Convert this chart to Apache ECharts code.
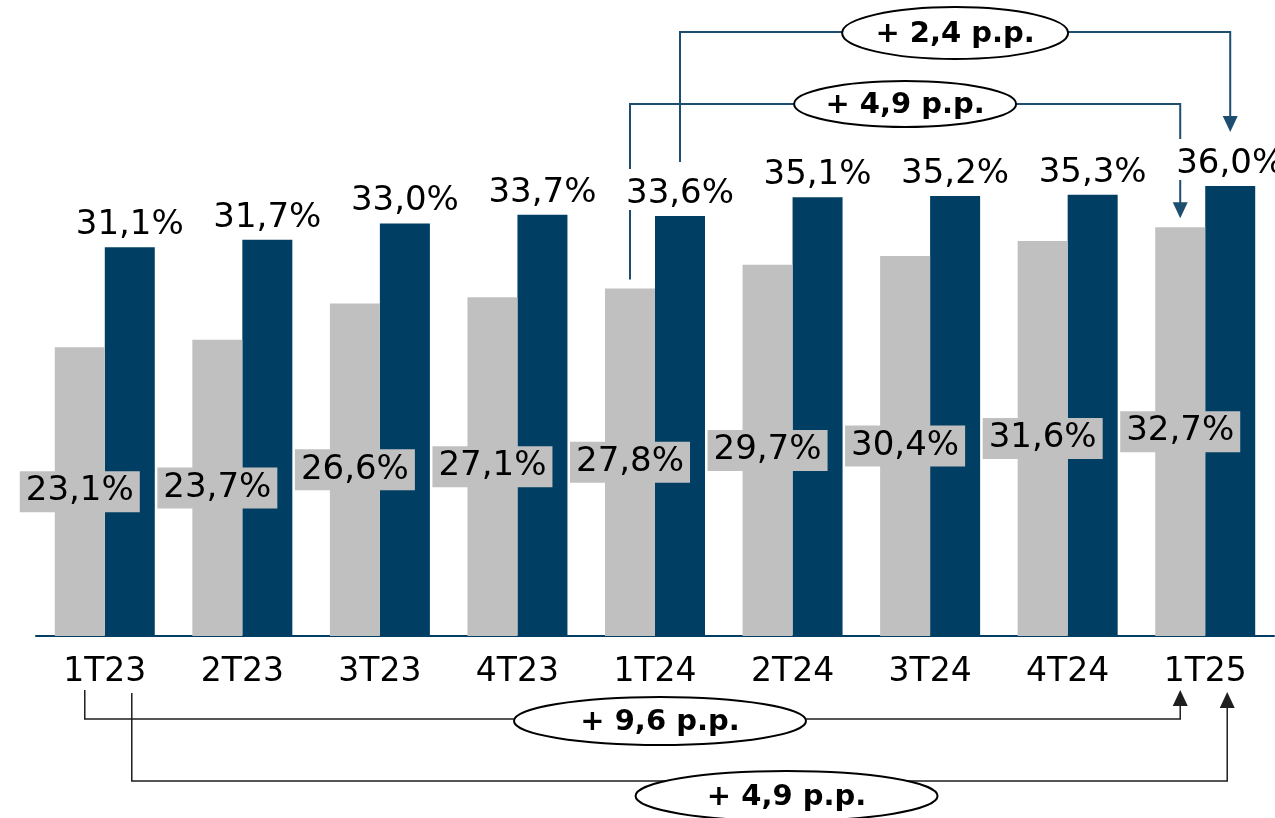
<!DOCTYPE html>
<html>
<head>
<meta charset="utf-8">
<script src="https://cdn.jsdelivr.net/npm/echarts@6/dist/echarts.min.js"></script>
<style>
html,body{margin:0;padding:0;background:#fff;}
#chart{width:1275px;height:818px;}
</style>
</head>
<body>
<div id="chart"></div>
<script>
const categories = ['1T23','2T23','3T23','4T23','1T24','2T24','3T24','4T24','1T25'];
const serieCinza = [23.1, 23.7, 26.6, 27.1, 27.8, 29.7, 30.4, 31.6, 32.7];
const serieAzul  = [31.1, 31.7, 33.0, 33.7, 33.6, 35.1, 35.2, 35.3, 36.0];
const textosVariacao = ['+ 2,4 p.p.', '+ 4,9 p.p.', '+ 9,6 p.p.', '+ 4,9 p.p.'];

const AZUL = '#003f63';
const CINZA = '#c0c0c0';
const LINHA_TOPO = '#1d4e70';
const LINHA_BASE = '#1e1e1e';
const FONT = 'DejaVu Sans';

function fmt(v){ return v.toFixed(1).replace('.', ',') + '%'; }

const chart = echarts.init(document.getElementById('chart'));
chart.setOption({
  animation: false,
  grid: {left: 36, right: 1, top: 36, bottom: 182},
  xAxis: {
    type: 'category',
    data: categories,
    axisLine: {lineStyle: {color: AZUL, width: 2}},
    axisTick: {show: false},
    axisLabel: {color: '#000', fontFamily: FONT, fontSize: 33, margin: 20}
  },
  yAxis: {type: 'value', min: 0, max: 48, show: false, splitLine: {show: false}},
  series: [
    {
      type: 'bar', data: serieCinza, barWidth: 50, barGap: '0%',
      itemStyle: {color: CINZA},
      label: {
        show: true, position: 'inside', color: '#000', fontFamily: FONT, fontSize: 34,
        backgroundColor: CINZA, padding: [4, 6, 3, 6],
        formatter: p => fmt(p.value)
      },
      z: 3
    },
    {
      type: 'bar', data: serieAzul, barWidth: 50, barGap: '0%',
      itemStyle: {color: AZUL},
      label: {
        show: true, position: 'top', distance: 5, color: '#000', fontFamily: FONT, fontSize: 34,
        formatter: p => fmt(p.value)
      },
      z: 2
    }
  ]
});

function px(i, v){ return chart.convertToPixel({gridIndex: 0}, [categories[i], v]); }
function cx(i){ return px(i, 0)[0]; }
function yTop(i, arr){ return px(i, arr[i])[1]; }

const g = [];
function line(points, color, w){
  g.push({type: 'polyline', shape: {points: points}, style: {stroke: color, lineWidth: w, fill: null}, z: 10});
}
function arrow(x, tipY, dir, color){
  const h = 16, hw = 7.5;
  const pts = dir === 'down'
    ? [[x - hw, tipY - h], [x + hw, tipY - h], [x, tipY]]
    : [[x - hw, tipY + h], [x + hw, tipY + h], [x, tipY]];
  g.push({type: 'polygon', shape: {points: pts}, style: {fill: color}, z: 11});
}
function bubble(x, y, rx, ry, text){
  g.push({type: 'ellipse', shape: {cx: x, cy: y, rx: rx, ry: ry},
    style: {fill: '#fff', stroke: '#000', lineWidth: 2}, z: 12});
  g.push({type: 'text', x: x, y: y + 1, z: 13,
    style: {text: text, fill: '#000', font: 'bold 29px "DejaVu Sans"', align: 'center', verticalAlign: 'middle'}});
}

const i24 = 4, i25 = 8, i23 = 0;
// Top annotation 1: 1T24 blue -> 1T25 blue
{
  const x1 = cx(i24) + 25, x2 = cx(i25) + 25, yH = 32;
  const tip = yTop(i25, serieAzul) - 54;
  line([[x1, yTop(i24, serieAzul) - 54], [x1, yH], [x2, yH], [x2, tip - 15]], LINHA_TOPO, 2);
  arrow(x2, tip, 'down', LINHA_TOPO);
  bubble((x1 + x2) / 2, 33, 113, 26, textosVariacao[0]);
}
// Top annotation 2: 1T24 gray -> 1T25 gray
{
  const x1 = cx(i24) - 25, x2 = cx(i25) - 25, yH = 104;
  const b24 = yTop(i24, serieAzul), b25 = yTop(i25, serieAzul);
  line([[x1, b24 - 47], [x1, yH], [x2, yH], [x2, b25 - 47]], LINHA_TOPO, 2);
  line([[x1, b24 - 6], [x1, yTop(i24, serieCinza) - 9]], LINHA_TOPO, 2);
  const tip = yTop(i25, serieCinza) - 9;
  line([[x2, b25 - 6], [x2, tip - 15]], LINHA_TOPO, 2);
  arrow(x2, tip, 'down', LINHA_TOPO);
  bubble((x1 + x2) / 2, 104, 111, 23, textosVariacao[1]);
}
// Bottom annotation 1: 1T23 gray -> 1T25 gray
{
  const x1 = cx(i23) - 20, x2 = cx(i25) - 25, yH = 719;
  line([[x1, 690], [x1, yH], [x2, yH], [x2, 704]], LINHA_BASE, 1.5);
  arrow(x2, 690, 'up', LINHA_BASE);
  bubble(cx(i24) + 5, 721, 146, 24, textosVariacao[2]);
}
// Bottom annotation 2: 1T23 blue -> 1T25 blue
{
  const x1 = cx(i23) + 27, x2 = cx(i25) + 22, yH = 781;
  line([[x1, 693], [x1, yH], [x2, yH], [x2, 706]], LINHA_BASE, 1.5);
  arrow(x2, 692, 'up', LINHA_BASE);
  bubble(cx(5) - 6, 796, 151, 25, textosVariacao[3]);
}

chart.setOption({graphic: {elements: g}});
</script>
</body>
</html>
